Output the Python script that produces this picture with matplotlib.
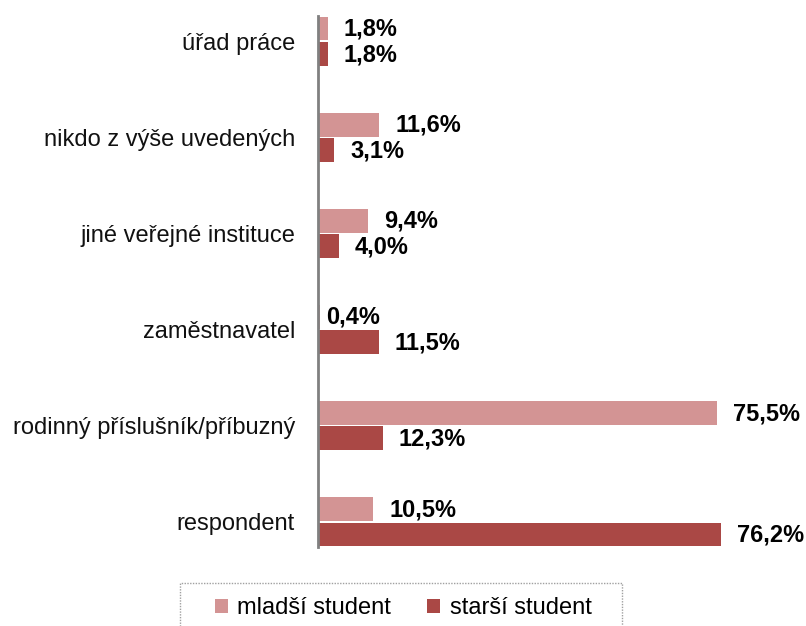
import matplotlib
matplotlib.use("Agg")
import matplotlib.pyplot as plt
from matplotlib.patches import Rectangle
import numpy as np

plt.rcParams['font.family'] = ['Liberation Sans', 'DejaVu Sans']

categories = ["úřad práce", "nikdo z výše uvedených", "jiné veřejné instituce",
              "zaměstnavatel", "rodinný příslušník/příbuzný", "respondent"]
mladsi = [1.8, 11.6, 9.4, 0.4, 75.5, 10.5]
starsi = [1.8, 3.1, 4.0, 11.5, 12.3, 76.2]
series_names = ["mladší student", "starší student"]
colors = ["#D39494", "#AA4845"]

W, H = 806, 626
fig = plt.figure(figsize=(W / 100, H / 100), dpi=100)
x0, x1 = 318, 318 + 5.285 * 80
y_top, y_bot = 16, 547
ax = fig.add_axes([x0 / W, (H - y_bot) / H, (x1 - x0) / W, (y_bot - y_top) / H])

pos = np.arange(len(categories))
h = 0.245
ax.barh(pos - h / 2 - 0.01, mladsi, height=h, color=colors[0], label=series_names[0])
ax.barh(pos + h / 2 + 0.01, starsi, height=h, color=colors[1], label=series_names[1])

for i in range(len(categories)):
    for v, yy in ((mladsi[i], pos[i] - h / 2 - 0.01), (starsi[i], pos[i] + h / 2 + 0.01)):
        off = 11.5 if v >= 1 else 4.5
        ax.annotate(f"{v:.1f}%".replace(".", ","), (v, yy), xytext=(off, -0.5),
                    textcoords="offset points", va="center", ha="left",
                    fontsize=17, fontweight="bold", color="black")

ax.set_xlim(0, 80)
ax.set_ylim(5 + h + 0.02, -h - 0.02)
ax.set_yticks(pos)
ax.set_yticklabels(categories, fontsize=17, color="#111111")
ax.tick_params(axis="y", length=0, pad=16.5)
ax.set_xticks([])
for s in ["top", "right", "bottom"]:
    ax.spines[s].set_visible(False)
ax.spines["left"].set_color("#808080")
ax.spines["left"].set_linewidth(2)

rect = Rectangle((180 / W, (H - 630) / H), (622 - 180) / W, (630 - 583) / H,
                 transform=fig.transFigure, fill=False, edgecolor="#A0A0A0",
                 linestyle=(0, (1, 1)), linewidth=1)
fig.add_artist(rect)
handles, labels = ax.get_legend_handles_labels()
fig.legend(handles, labels, loc="center", bbox_to_anchor=(403 / W, (H - 608) / H),
           ncol=2, frameon=False, fontsize=17, handlelength=0.55, handleheight=0.55,
           columnspacing=1.5, handletextpad=0.42)

fig.savefig("out.png", dpi=100)
